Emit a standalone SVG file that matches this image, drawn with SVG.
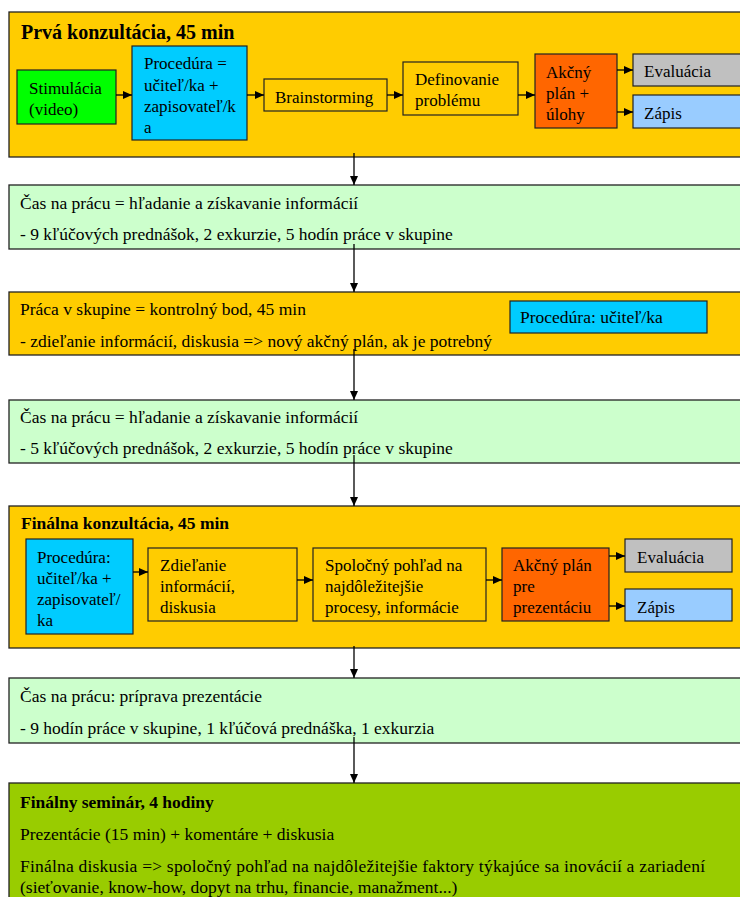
<svg xmlns="http://www.w3.org/2000/svg" width="740" height="897" viewBox="0 0 740 897">
<style>
text{font-family:"Liberation Serif","Times New Roman",serif;fill:#000;}
.t17{font-size:17px}
.t16{font-size:17.5px}
.b{font-weight:bold}
.box{stroke:#222;stroke-width:1.3}
.n{stroke:#222;stroke-width:1.2}
.org{fill:#FFCC00}
.grn{fill:#CCFFCC}
.lime{fill:#99CC00}
.cyan{fill:#00CCFF}
.red{fill:#FF6600}
.gray{fill:#C0C0C0}
.lblue{fill:#99CCFF}
.green{fill:#00FF00}
.c{stroke:#000;stroke-width:1.3;fill:none}
</style>
<defs>
<marker id="ah" markerUnits="userSpaceOnUse" markerWidth="9" markerHeight="8" refX="9" refY="4" orient="auto">
<path d="M0,0 L9,4 L0,8 z" fill="#000"/>
</marker>
</defs>

<g id="prva">
<rect class="box org" x="9" y="12" width="745" height="145"/>
<text class="b" x="21" y="39" font-size="20">Prvá konzultácia, 45 min</text>
</g>
<g id="stimulacia">
<rect class="n green" x="17" y="70" width="99" height="54"/>
<text class="t17" x="29" y="94">Stimulácia</text>
<text class="t17" x="29" y="115">(video)</text>
</g>
<g id="procedura1">
<rect class="n cyan" x="132" y="46" width="115" height="94"/>
<text class="t17" x="144" y="69">Procedúra =</text>
<text class="t17" x="144" y="91">učiteľ/ka +</text>
<text class="t17" x="144" y="112">zapisovateľ/k</text>
<text class="t17" x="144" y="133">a</text>
</g>
<g id="brainstorming">
<rect class="n org" x="264" y="79" width="123" height="32"/>
<text class="t17" x="275" y="103">Brainstorming</text>
</g>
<g id="definovanie">
<rect class="n org" x="403" y="62" width="115" height="53"/>
<text class="t17" x="415" y="85">Definovanie</text>
<text class="t17" x="415" y="106">problému</text>
</g>
<g id="akcny1">
<rect class="n red" x="535" y="54" width="82" height="74"/>
<text class="t17" x="546" y="78">Akčný</text>
<text class="t17" x="546" y="99">plán +</text>
<text class="t17" x="546" y="120">úlohy</text>
</g>
<g id="evaluacia1">
<rect class="n gray" x="633" y="54" width="115" height="32"/>
<text class="t17" x="644" y="77">Evaluácia</text>
</g>
<g id="zapis1">
<rect class="n lblue" x="633" y="95" width="115" height="33"/>
<text class="t17" x="644" y="119">Zápis</text>
</g>

<g id="cas1">
<rect class="box grn" x="9" y="185" width="745" height="64"/>
<text class="t16" x="20" y="209">Čas na prácu = hľadanie a získavanie informácií</text>
<text class="t16" x="20" y="240">- 9 kľúčových prednášok, 2 exkurzie, 5 hodín práce v skupine</text>
</g>

<g id="praca">
<rect class="box org" x="9" y="292" width="745" height="63"/>
<text class="t16" x="20" y="315">Práca v skupine = kontrolný bod, 45 min</text>
<text class="t16" x="20" y="347">- zdieľanie informácií, diskusia =&gt; nový akčný plán, ak je potrebný</text>
</g>
<g id="procedura2">
<rect class="n cyan" x="510" y="301" width="197" height="32"/>
<text class="t16" x="520" y="323">Procedúra: učiteľ/ka</text>
</g>

<g id="cas2">
<rect class="box grn" x="9" y="400" width="745" height="63"/>
<text class="t16" x="20" y="423">Čas na prácu = hľadanie a získavanie informácií</text>
<text class="t16" x="20" y="454">- 5 kľúčových prednášok, 2 exkurzie, 5 hodín práce v skupine</text>
</g>

<g id="finalna">
<rect class="box org" x="9" y="506" width="745" height="142"/>
<text class="b" x="21" y="529" font-size="17.5">Finálna konzultácia, 45 min</text>
</g>
<g id="procedura3">
<rect class="n cyan" x="26" y="539" width="107" height="95"/>
<text class="t17" x="37" y="563">Procedúra:</text>
<text class="t17" x="37" y="584">učiteľ/ka +</text>
<text class="t17" x="37" y="605">zapisovateľ/</text>
<text class="t17" x="37" y="626">ka</text>
</g>
<g id="zdielanie">
<rect class="n org" x="148" y="548" width="149" height="73"/>
<text class="t17" x="160" y="571">Zdieľanie</text>
<text class="t17" x="160" y="592">informácií,</text>
<text class="t17" x="160" y="613">diskusia</text>
</g>
<g id="spolocny">
<rect class="n org" x="313" y="548" width="173" height="73"/>
<text class="t17" x="325" y="571">Spoločný pohľad na</text>
<text class="t17" x="325" y="592">najdôležitejšie</text>
<text class="t17" x="325" y="613">procesy, informácie</text>
</g>
<g id="akcny2">
<rect class="n red" x="502" y="548" width="107" height="73"/>
<text class="t17" x="513" y="571">Akčný plán</text>
<text class="t17" x="513" y="592">pre</text>
<text class="t17" x="513" y="613">prezentáciu</text>
</g>
<g id="evaluacia2">
<rect class="n gray" x="625" y="539" width="107" height="33"/>
<text class="t17" x="637" y="563">Evaluácia</text>
</g>
<g id="zapis2">
<rect class="n lblue" x="625" y="589" width="107" height="32"/>
<text class="t17" x="637" y="613">Zápis</text>
</g>

<g id="cas3">
<rect class="box grn" x="9" y="678" width="745" height="65"/>
<text class="t16" x="20" y="702">Čas na prácu: príprava prezentácie</text>
<text class="t16" x="20" y="734">- 9 hodín práce v skupine, 1 kľúčová prednáška, 1 exkurzia</text>
</g>

<g id="seminar">
<rect class="box lime" x="9" y="783" width="745" height="130"/>
<text class="t16 b" x="20" y="808">Finálny seminár, 4 hodiny</text>
<text class="t16" x="20" y="840">Prezentácie (15 min) + komentáre + diskusia</text>
<text class="t16" x="20" y="872" textLength="685" lengthAdjust="spacing">Finálna diskusia =&gt; spoločný pohľad na najdôležitejšie faktory týkajúce sa inovácií a zariadení</text>
<text class="t16" x="20" y="893">(sieťovanie, know-how, dopyt na trhu, financie, manažment...)</text>
</g>

<g id="connectors">
<line class="c" x1="354" y1="153" x2="354" y2="185" marker-end="url(#ah)"/>
<line class="c" x1="354" y1="244" x2="354" y2="292" marker-end="url(#ah)"/>
<line class="c" x1="354" y1="349" x2="354" y2="400" marker-end="url(#ah)"/>
<line class="c" x1="354" y1="455" x2="354" y2="506" marker-end="url(#ah)"/>
<line class="c" x1="354" y1="646" x2="354" y2="678" marker-end="url(#ah)"/>
<line class="c" x1="354" y1="737" x2="354" y2="783" marker-end="url(#ah)"/>
<line class="c" x1="116" y1="95" x2="132" y2="95" marker-end="url(#ah)"/>
<line class="c" x1="247" y1="95" x2="264" y2="95" marker-end="url(#ah)"/>
<line class="c" x1="387" y1="95" x2="403" y2="95" marker-end="url(#ah)"/>
<line class="c" x1="518" y1="95" x2="535" y2="95" marker-end="url(#ah)"/>
<line class="c" x1="617" y1="70" x2="633" y2="70" marker-end="url(#ah)"/>
<line class="c" x1="617" y1="112" x2="633" y2="112" marker-end="url(#ah)"/>
<line class="c" x1="133" y1="572" x2="148" y2="572" marker-end="url(#ah)"/>
<line class="c" x1="297" y1="580" x2="313" y2="580" marker-end="url(#ah)"/>
<line class="c" x1="486" y1="580" x2="502" y2="580" marker-end="url(#ah)"/>
<line class="c" x1="609" y1="556" x2="625" y2="556" marker-end="url(#ah)"/>
<line class="c" x1="609" y1="606" x2="625" y2="606" marker-end="url(#ah)"/>
</g>
</svg>
